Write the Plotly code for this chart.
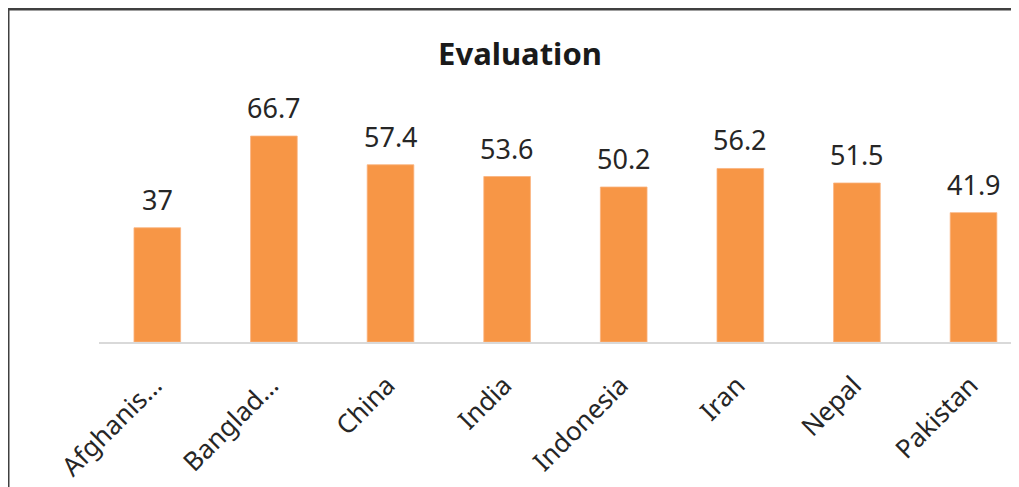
import plotly.graph_objects as go

categories = ["Afghanis…", "Banglad…", "China", "India", "Indonesia", "Iran", "Nepal", "Pakistan"]
values = [37, 66.7, 57.4, 53.6, 50.2, 56.2, 51.5, 41.9]
labels = ["37", "66.7", "57.4", "53.6", "50.2", "56.2", "51.5", "41.9"]

FONT = "Noto Sans"
TXT = "#262626"

# page body has an 8px margin; figure coordinates are page coordinates minus 8
fig = go.Figure()
fig.add_trace(go.Bar(
    x=categories, y=values,
    marker=dict(color="#F79646", line=dict(color="#FAB27E", width=0.8)),
    hoverinfo="skip",
))

for c, v, t in zip(categories, values, labels):
    fig.add_annotation(x=c, y=v, text=t, showarrow=False, yanchor="bottom",
                       yshift=8, font=dict(family=FONT, size=27, color=TXT))

fig.update_layout(
    width=1011, height=479,
    margin=dict(l=91, r=0, t=87, b=145),
    paper_bgcolor="white", plot_bgcolor="white",
    bargap=0.6,
    showlegend=False,
    title=dict(text="<b>Evaluation</b>", x=(520 - 8) / 1011, xanchor="center",
               y=1 - 46 / 479, yref="container", yanchor="middle",
               font=dict(family=FONT, size=31, color="#1a1a1a")),
    xaxis=dict(range=[-0.5, 7.39], showline=True, linecolor="#D9D9D9", linewidth=1.5,
               tickangle=-45, ticks="", showgrid=False,
               ticklabelstandoff=16, ticklabelshift=-3,
               tickfont=dict(family=FONT, size=26, color=TXT)),
    yaxis=dict(range=[0, 80], visible=False, showgrid=False, zeroline=False),
    shapes=[dict(type="rect", xref="paper", yref="paper",
                 x0=(8 - 99) / 920, x1=1.1, y0=-0.8, y1=(342 - 9) / 247,
                 line=dict(color="#404040", width=3), fillcolor="rgba(0,0,0,0)")],
)

fig.write_html("out.html")
